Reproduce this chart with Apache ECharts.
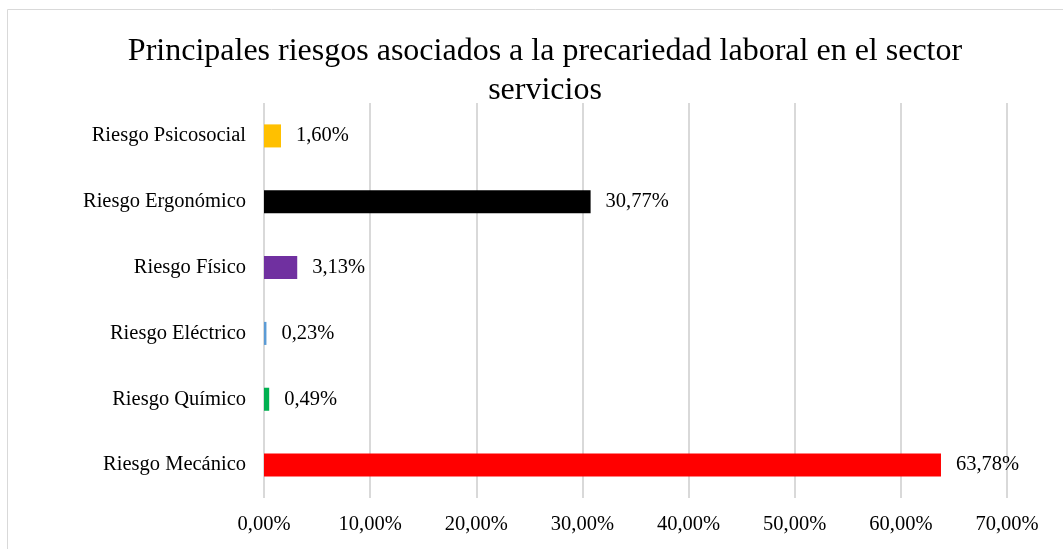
<!DOCTYPE html>
<html>
	<head>
		<meta charset="utf-8">
		<title>Principales riesgos</title>
		<script src="https://cdn.jsdelivr.net/npm/echarts@6/dist/echarts.min.js"></script>
		<style>
			html, body { margin: 0; padding: 0; background: #fff; }
			#chart { width: 1063px; height: 549px; }
		</style>
	</head>
	<body>
		<div id="chart"></div>
		<script>
			// datos (de abajo hacia arriba)
			var categorias = ['Riesgo Mecánico', 'Riesgo Químico', 'Riesgo Eléctrico', 'Riesgo Físico', 'Riesgo Ergonómico', 'Riesgo Psicosocial'];
			var valores = [63.78, 0.49, 0.23, 3.13, 30.77, 1.60];
			var colores = ['#ff0000', '#00b050', '#5b9bd5', '#7030a0', '#000000', '#ffc000'];

			function pct(v) {
				return v.toFixed(2).replace('.', ',') + '%';
			}

			var myChart = echarts.init(document.getElementById('chart'));
			var fuente = '"Liberation Serif", "Times New Roman", serif';
			var option = {
				animation: false,
				graphic: [{
					type: 'rect',
					shape: { x: 7.5, y: 9.5, width: 1070, height: 560 },
					style: { fill: 'none', stroke: '#d9d9d9', lineWidth: 1 },
					silent: true
				}],
				title: {
					text: 'Principales riesgos asociados a la precariedad laboral en el sector\nservicios',
					left: 540,
					textAlign: 'center',
					top: 27,
					textStyle: {
						fontFamily: fuente,
						fontWeight: 'normal',
						fontSize: 32,
						lineHeight: 39,
						color: '#000'
					}
				},
				grid: { left: 264, right: 56, top: 103, bottom: 51 },
				xAxis: {
					type: 'value',
					min: 0,
					max: 70,
					interval: 10,
					axisLine: { show: false },
					axisTick: { show: false },
					splitLine: { lineStyle: { color: '#d9d9d9', width: 2 } },
					axisLabel: {
						margin: 16,
						fontFamily: fuente,
						fontSize: 20.5,
						color: '#000',
						formatter: pct
					}
				},
				yAxis: {
					type: 'category',
					data: categorias,
					axisLine: { show: false },
					axisTick: { show: false },
					axisLabel: {
						margin: 18,
						fontFamily: fuente,
						fontSize: 20.5,
						color: '#000'
					}
				},
				series: [{
					type: 'bar',
					barWidth: '35%',
					data: valores.map(function (v, i) {
						return { value: v, itemStyle: { color: colores[i] } };
					}),
					label: {
						show: true,
						position: 'right',
						distance: 15,
						fontFamily: fuente,
						fontSize: 20.5,
						color: '#000',
						formatter: function (p) { return pct(p.value); }
					}
				}]
			};
			myChart.setOption(option);
		</script>
	</body>
</html>
